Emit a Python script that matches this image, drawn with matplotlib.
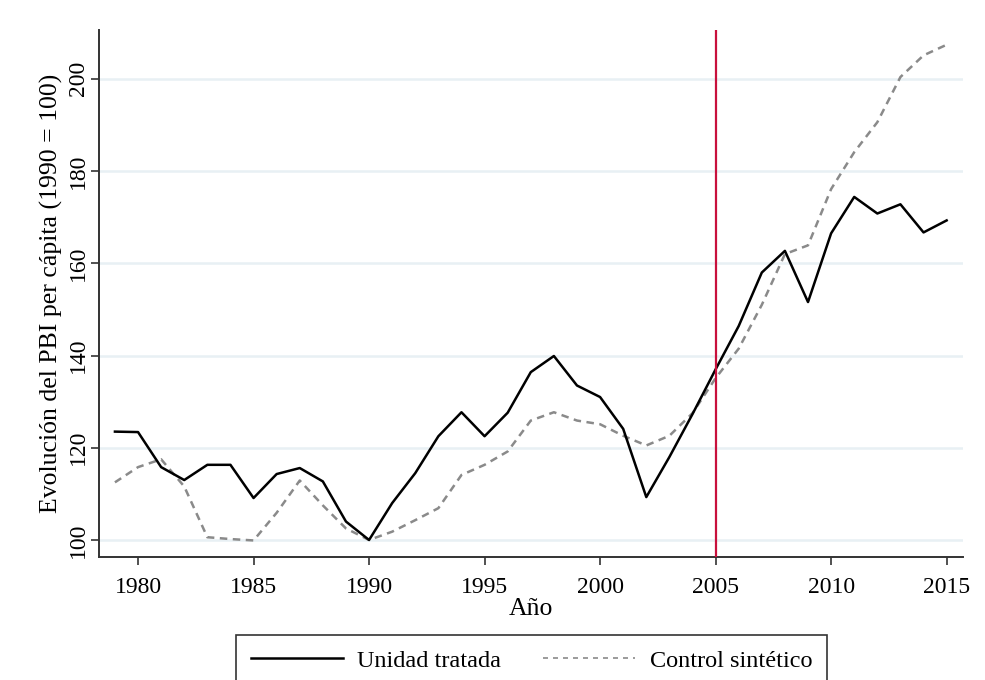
import matplotlib
matplotlib.use("Agg")
import matplotlib.pyplot as plt
from matplotlib.lines import Line2D

plt.rcParams['font.family'] = ['Liberation Serif', 'DejaVu Serif']

years = list(range(1979, 2016))
tratada = [123.5, 123.4, 115.8, 113.0, 116.3, 116.3, 109.1, 114.3, 115.6, 112.7,
           104.0, 100.0, 108.0, 114.5, 122.5, 127.7, 122.5, 127.6, 136.4, 139.9,
           133.5, 131.0, 124.1, 109.3, 118.0, 127.3, 137.0, 146.4, 158.0, 162.7,
           151.6, 166.5, 174.4, 170.8, 172.8, 166.7, 169.3]
sintetico = [112.5, 115.8, 117.5, 111.6, 100.6, 100.2, 99.9, 105.9, 112.9, 107.5,
             102.5, 100.0, 101.8, 104.3, 106.9, 114.1, 116.3, 119.2, 125.9, 127.7,
             125.9, 125.1, 122.6, 120.5, 122.6, 127.5, 135.1, 141.5, 151.0, 162.0,
             163.9, 176.1, 184.1, 190.6, 200.4, 205.1, 207.4]
x_ticks = [1980, 1985, 1990, 1995, 2000, 2005, 2010, 2015]
y_ticks = [100, 120, 140, 160, 180, 200]
tratamiento = 2005

fig = plt.figure(figsize=(9.85, 6.8), dpi=100)
ax = fig.add_axes([0.1005, 0.1815, 0.8772, 0.7744])

for yv in y_ticks:
    ax.axhline(yv, color='#E8F0F4', lw=1.8, zorder=0)

ax.plot(years, tratada, color='black', lw=1.8, zorder=3)
ax.plot(years, sintetico, color='#8A8A8A', lw=1.8, ls=(0, (3.0, 2.2)), zorder=2)
ax.axvline(tratamiento, color='#C8103C', lw=1.6, zorder=4)

ax.set_xlim(1978.31, 2015.71)
ax.set_ylim(96.4, 210.6)
ax.set_xticks(x_ticks)
ax.set_yticks(y_ticks)
ax.tick_params(axis='both', direction='out', length=6, width=1.2, color='#333333',
               labelsize=17)
ax.tick_params(axis='x', pad=9)
ax.tick_params(axis='y', labelrotation=90, pad=1.5)
for lab in ax.get_yticklabels():
    lab.set_verticalalignment('center')
for s in ['top', 'right']:
    ax.spines[s].set_visible(False)
for s in ['left', 'bottom']:
    ax.spines[s].set_color('#333333')
    ax.spines[s].set_linewidth(1.4)

ax.set_xlabel('Año', fontsize=18.5, labelpad=0)
ax.set_ylabel('Evolución del PBI per cápita (1990 = 100)', fontsize=18.5, labelpad=3.5)

handles = [Line2D([], [], color='black', lw=1.8),
           Line2D([], [], color='#8A8A8A', lw=1.2, ls=(0, (3.0, 3.0)))]
leg = fig.legend(handles, ['Unidad tratada', 'Control sintético'], ncol=2,
                 loc='upper center', bbox_to_anchor=(0.5395, 1 - 635 / 680),
                 borderaxespad=0, fontsize=17.5, frameon=True, fancybox=False,
                 handlelength=3.8, columnspacing=1.7, borderpad=0.6,
                 handletextpad=0.6)
leg.get_frame().set_edgecolor('black')
leg.get_frame().set_linewidth(1.2)

fig.savefig('out.png', dpi=100)
